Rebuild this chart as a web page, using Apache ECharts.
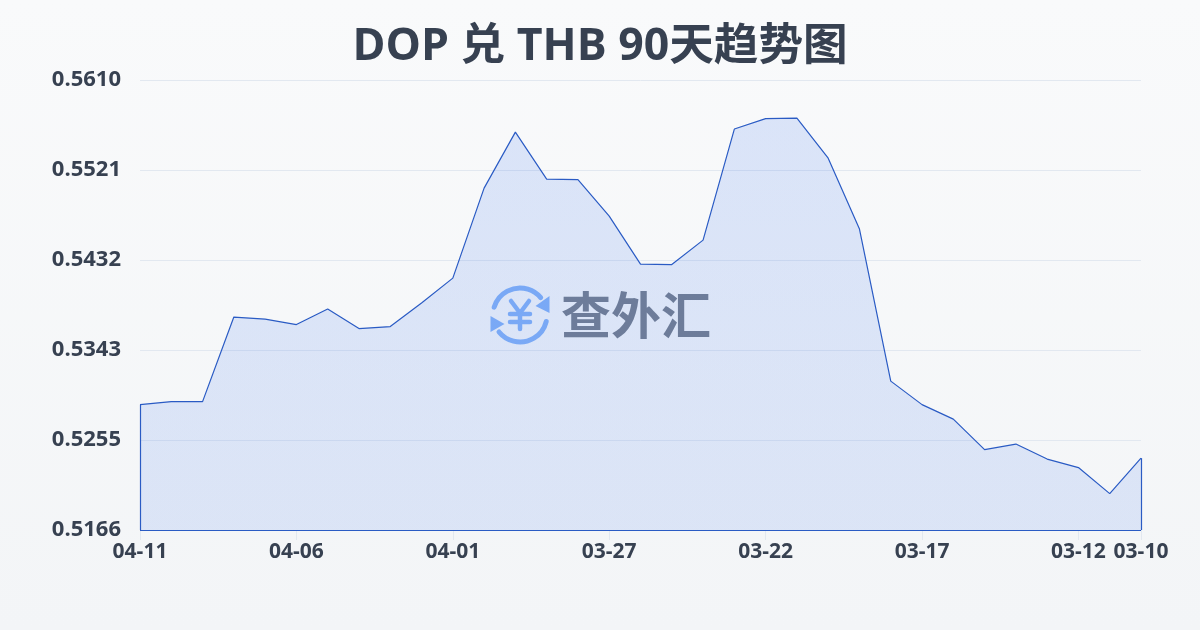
<!DOCTYPE html>
<html><head><meta charset="utf-8">
<style>html,body{margin:0;padding:0;width:1200px;height:630px;overflow:hidden}#c{width:1200px;height:630px}</style>
<script src="https://cdn.jsdelivr.net/npm/echarts@6/dist/echarts.min.js"></script>
</head><body><div id="c"></div>
<script>
const titleText = 'DOP 兑 THB 90天趋势图';
const dates = ['04-11','04-10','04-09','04-08','04-07','04-06','04-05','04-04','04-03','04-02','04-01','03-31','03-30','03-29','03-28','03-27','03-26','03-25','03-24','03-23','03-22','03-21','03-20','03-19','03-18','03-17','03-16','03-15','03-14','03-13','03-12','03-11','03-10'];
const rates = [0.52897,0.52927,0.52927,0.53761,0.53741,0.53687,0.53840,0.53647,0.53667,0.53899,0.54145,0.55033,0.55586,0.55122,0.55117,0.54757,0.54284,0.54279,0.54520,0.55616,0.55719,0.55724,0.55329,0.54629,0.53129,0.52897,0.52754,0.52453,0.52508,0.52360,0.52276,0.52019,0.52369];
const yTicks = [0.5166,0.52548,0.53434,0.54324,0.55212,0.5610];
const labelledDates = ['04-11','04-06','04-01','03-27','03-22','03-17','03-12','03-10'];
const yMin = 0.5166, yMax = 0.5610;
const FONT = '"Open Sans","Noto Sans CJK SC",sans-serif';
const INK = '#374151', BLUE = '#2a5bc4', ICON = '#86b3f7', MARK = '#78808e';
const showDate = (i, v) => labelledDates.includes(v);
const first = dates[0], last = dates[dates.length - 1];
const C = [520, 315], R = 27;
const arc = (a, b) => ({type:'arc', shape:{cx:C[0],cy:C[1],r:R,startAngle:a*Math.PI/180,endAngle:b*Math.PI/180,clockwise:true}, style:{fill:'none',stroke:ICON,lineWidth:5,lineCap:'round'}, silent:true});
const tri = pts => ({type:'polygon', shape:{points:pts}, style:{fill:ICON}, silent:true});
const stroke = pts => ({type:'polyline', shape:{points:pts}, style:{fill:'none',stroke:ICON,lineWidth:4.5,lineCap:'round',lineJoin:'round'}, silent:true});
const chart = echarts.init(document.getElementById('c'), null, {renderer:'canvas'});
chart.setOption({
  animation:false,
  backgroundColor:new echarts.graphic.LinearGradient(0,0,0,1,[{offset:0,color:'#f9fafb'},{offset:1,color:'#f3f5f7'}]),
  title:{text:titleText,left:'center',top:20,textStyle:{fontFamily:FONT,fontSize:44.6,fontWeight:'bold',color:INK}},
  grid:{left:140,right:59,top:80,bottom:100},
  xAxis:{type:'category',data:dates,boundaryGap:false,
    axisLine:{show:false},
    axisTick:{show:true,length:10,interval:showDate,alignWithLabel:true,lineStyle:{color:'#e2e8f0'}},
    axisLabel:{interval:showDate,margin:12,fontFamily:FONT,fontSize:21,fontWeight:'bold',color:INK},
    splitLine:{show:false}},
  yAxis:{type:'value',min:yMin,max:yMax,
    axisLine:{show:false},
    axisTick:{show:false,customValues:yTicks},
    axisLabel:{customValues:yTicks,margin:19,padding:[0,0,2,0],fontFamily:FONT,fontSize:22,fontWeight:'bold',color:INK,formatter:v=>v.toFixed(4)},
    splitLine:{show:true,lineStyle:{color:'#e2e8f0',width:1}}},
  series:[{type:'line',data:rates,symbol:'none',smooth:false,silent:true,
    lineStyle:{color:BLUE,width:1.2},
    areaStyle:{color:new echarts.graphic.LinearGradient(0,0,0,1,[{offset:0,color:'rgba(37,99,235,0.2)'},{offset:1,color:'rgba(37,99,235,0.17)'}])},
    markLine:{silent:true,symbol:'none',label:{show:false},lineStyle:{color:BLUE,width:1.2,type:'solid'},
      data:[
        [{coord:[first,yMin]},{coord:[first,rates[0]]}],
        [{coord:[last,yMin]},{coord:[last,rates[rates.length-1]]}],
        [{coord:[first,yMin]},{coord:[last,yMin]}]
      ]}
  }],
  graphic:[{type:'group',silent:true,z:100,children:[
    arc(197,320),arc(14,141),
    tri([[549.5,296],[549.5,313],[535.5,306]]),
    tri([[490.5,316],[490.5,332],[504.5,324]]),
    stroke([[511,301],[520,313],[529,301]]),
    stroke([[510,314],[530,314]]),
    stroke([[510,322],[530,322]]),
    stroke([[520,313],[520,329]]),
    {type:'text',style:{text:'查外汇',x:636,y:315,align:'center',verticalAlign:'middle',fontFamily:'"Noto Sans CJK SC"',fontWeight:'bold',fontSize:50,fill:MARK},silent:true}
  ]}]
});
</script></body></html>
